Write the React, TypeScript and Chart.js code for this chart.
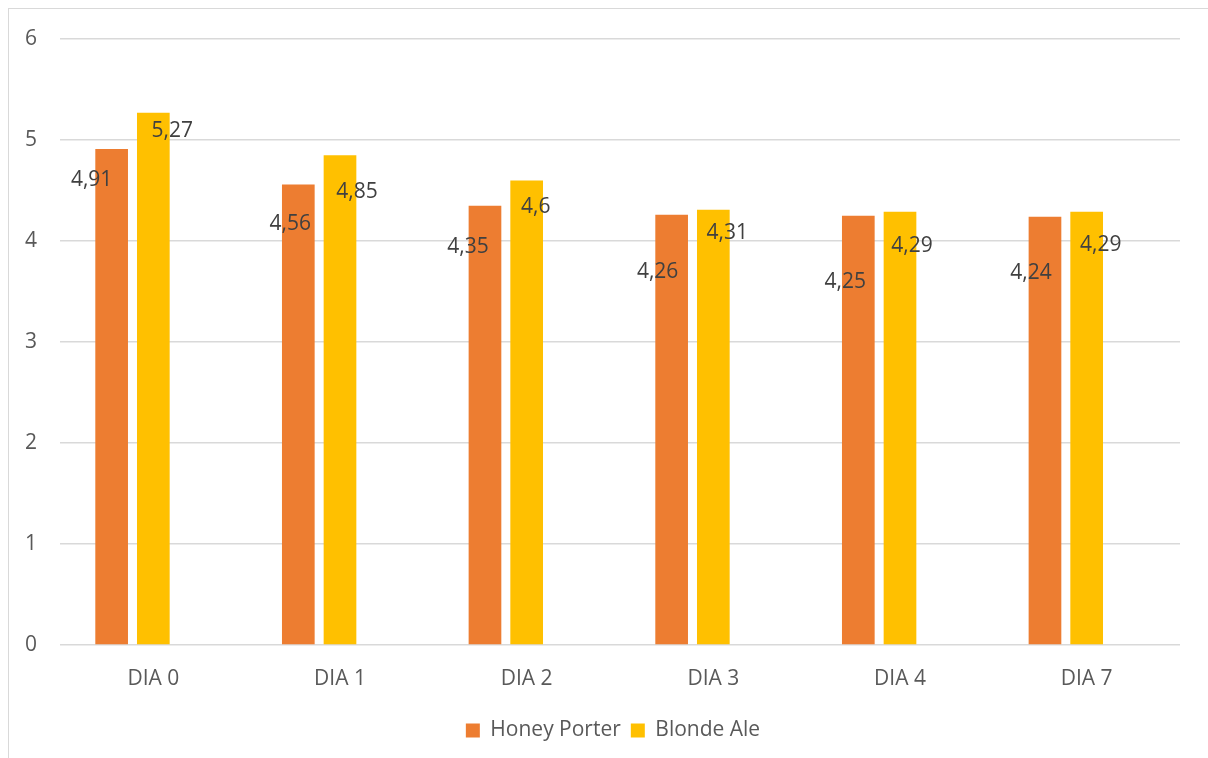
import React, { useEffect, useRef } from "react";
import { Chart, registerables } from "chart.js";

Chart.register(...registerables);

const categories = ["DIA 0", "DIA 1", "DIA 2", "DIA 3", "DIA 4", "DIA 7"];
const honeyPorter = [4.91, 4.56, 4.35, 4.26, 4.25, 4.24];
const blondeAle = [5.27, 4.85, 4.6, 4.31, 4.29, 4.29];
const emptySeries = [null, null, null, null, null, null];
const yTicks = [0, 1, 2, 3, 4, 5, 6];

const FONT = "'Open Sans', 'Liberation Sans', sans-serif";
const FS = 21;

// label placement (px) relative to bar centre (dx) and bar top (dy)
const labelPlacement = {
  0: { dx: [-20, -8, -17, -14, -13, -14], dy: [31, 40, 41, 57, 66, 56] },
  1: { dx: [19, 17, 9, 14, 12, 14], dy: [18, 37, 27, 23, 34, 33] },
};

const dataLabelPlugin = {
  id: "dataLabels",
  afterLayout(chart: any) {
    // nudge the legend slightly left so it is centred like the original
    const lg = chart.legend;
    if (lg) {
      lg.left -= 7;
      lg.right -= 7;
    }
  },
  afterDatasetsDraw(chart: any) {
    const ctx = chart.ctx;
    ctx.save();
    ctx.font = `${FS}px ${FONT}`;
    ctx.fillStyle = "#404040";
    ctx.textAlign = "center";
    ctx.textBaseline = "middle";
    [0, 1].forEach((di) => {
      const meta = chart.getDatasetMeta(di);
      const ds = chart.data.datasets[di];
      const place = (labelPlacement as any)[di];
      meta.data.forEach((bar: any, i: number) => {
        const v = ds.data[i];
        if (v == null) return;
        const text = String(v).replace(".", ",");
        ctx.fillText(text, bar.x + place.dx[i], bar.y + place.dy[i]);
      });
    });
    ctx.restore();
  },
};

export default function App() {
  const ref = useRef<HTMLCanvasElement>(null);

  useEffect(() => {
    if (!ref.current) return;
    Chart.defaults.font.family = FONT;
    const chart = new Chart(ref.current, {
      type: "bar",
      data: {
        labels: categories,
        datasets: [
          {
            label: "Honey Porter",
            data: honeyPorter,
            backgroundColor: "#ED7D31",
            borderWidth: 0,
            categoryPercentage: 0.67,
            barPercentage: 0.784,
          },
          {
            label: "Blonde Ale",
            data: blondeAle,
            backgroundColor: "#FFC000",
            borderWidth: 0,
            categoryPercentage: 0.67,
            barPercentage: 0.784,
          },
          {
            label: "",
            data: emptySeries as any,
            backgroundColor: "#A5A5A5",
            borderWidth: 0,
            categoryPercentage: 0.67,
            barPercentage: 0.784,
          },
        ],
      },
      options: {
        responsive: false,
        animation: false,
        layout: { padding: { left: 0, right: 28, top: 39, bottom: 7 } },
        plugins: {
          tooltip: { enabled: false },
          legend: {
            position: "bottom",
            fullSize: false,
            labels: {
              color: "#595959",
              font: { size: FS, family: FONT },
              boxWidth: 14,
              boxHeight: 14,
              padding: 10,
              filter: (item: any) => item.text !== "",
            },
          },
        },
        scales: {
          x: {
            grid: { display: false, drawTicks: false },
            border: { display: false },
            ticks: {
              color: "#595959",
              font: { size: FS, family: FONT },
              padding: 21,
              maxRotation: 0,
            },
            afterFit: (s: any) => {
              s.height = 65;
            },
          },
          y: {
            min: 0,
            max: 6,
            afterBuildTicks: (s: any) => {
              s.ticks = yTicks.map((v) => ({ value: v }));
            },
            grid: { color: "#D9D9D9", lineWidth: 1.5, drawTicks: false },
            border: { display: false },
            ticks: {
              color: "#595959",
              font: { size: FS, family: FONT },
              padding: 23,
            },
            afterFit: (s: any) => {
              s.width = 60;
            },
          },
        },
      },
      plugins: [dataLabelPlugin],
    });
    return () => chart.destroy();
  }, []);

  return (
    <div
      style={{
        position: "fixed",
        left: 0,
        top: 0,
        width: 1208,
        height: 758,
        overflow: "hidden",
        background: "#ffffff",
      }}
    >
      <div
        style={{
          position: "absolute",
          left: 8,
          top: 8,
          width: 1300,
          height: 900,
          borderLeft: "1.5px solid #D9D9D9",
          borderTop: "1.5px solid #D9D9D9",
        }}
      />
      <canvas
        ref={ref}
        width={1208}
        height={758}
        style={{ position: "absolute", left: 0, top: 0, width: 1208, height: 758 }}
      />
    </div>
  );
}
